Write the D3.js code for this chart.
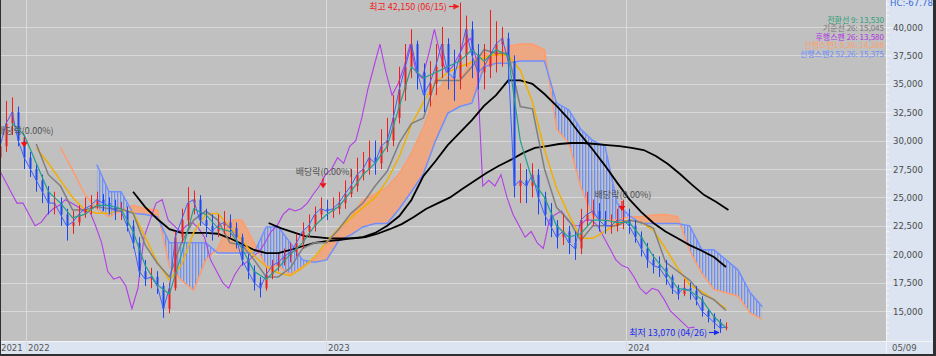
<!DOCTYPE html>
<html><head><meta charset="utf-8">
<script src="https://cdn.jsdelivr.net/npm/d3@7"></script>
<style>html,body{margin:0;padding:0;background:#fff;}svg{display:block;}</style>
</head><body><svg id="c" width="936" height="356"></svg>
<script>
// ===== DATA (trading-day index i; candles every 5 days) =====
const candleStep = 5;
const firstOpen = 28500;
const closes = [29500,31500,32500,30000,28500,27500,26500,25500,24500,24500,
 23500,22500,22800,23500,24000,24300,24800,24500,24200,23800,
 23800,22500,21000,18500,17800,18000,17200,15200,17000,21500,
 23000,24500,24800,23000,22500,22000,22500,22800,22300,21500,
 19500,18500,17500,17000,18200,19000,19300,19800,20200,21000,
 22000,22500,23500,24000,23800,24000,24500,25300,26000,27000,
 27500,28500,28000,29500,30000,32000,34500,36500,38500,36000,
 34000,35000,36500,38500,36000,35500,37500,39800,37500,36000,
 36500,37500,38500,39000,37000,26000,26500,26000,27000,25000,
 23500,22500,21500,22000,21000,20500,23000,23500,23800,23000,
 22500,22500,23000,23000,22500,21500,20500,19500,19000,18800,
 18000,17000,16500,17000,16800,16000,15000,14500,14000,13500,
 13580];
const highs = [31000,33500,33800,33000,30500,29000,28000,27000,26000,25500,
 25000,24000,23800,24300,25000,25200,25500,25300,25000,24800,
 24600,24200,23000,21500,19500,18800,18500,17500,17500,22000,
 24000,25900,25600,25200,24000,23500,23500,23800,23500,22800,
 21800,20000,19000,18000,18800,19500,20000,20500,21000,21800,
 22800,23500,24200,25000,24800,25000,25500,26500,27500,28500,
 29000,30000,30000,31000,32000,34000,36500,38500,39800,38800,
 36800,37000,38500,40000,39000,38000,42150,41000,40500,38500,
 38500,41500,40500,40000,39500,37500,28000,27500,28000,27500,
 25500,24500,23000,23500,22500,22000,24000,25500,24800,24500,
 23800,23500,24000,24800,24000,23000,22000,21000,20000,19800,
 19500,18200,17300,17800,17500,17200,16300,15200,14800,14300,
 14000];
const lows = [28000,29000,30500,29500,27500,26800,25500,24500,23500,23500,
 22500,21200,21800,22500,23200,23500,24000,23800,23500,23000,
 23000,22000,20500,18000,17200,17000,16500,14400,14800,16800,
 21000,22500,23500,22500,21500,21200,21500,21800,21500,20500,
 19000,17800,16800,16200,16800,17800,18500,19000,19300,19800,
 20500,21500,22000,23000,23000,23200,23500,24000,25000,25500,
 26500,27000,27000,27500,29000,29500,31500,33500,35500,34500,
 32500,33000,34000,35500,34500,33500,34500,36500,35500,34500,
 34500,35500,36000,36500,35000,25000,24500,24500,25000,23500,
 22500,21500,20500,20800,20000,19500,20000,22500,22500,22000,
 21800,21800,22000,22200,21800,21000,19800,18800,18300,18000,
 17300,16500,16000,16300,16000,15500,14500,14000,13400,13070,
 13300];
// Ichimoku + moving averages, sampled every 10 trading days from their start index
const tenkanStart = 10;
const tenkan = [31500,30500,28000,25500,24500,23200,23500,24300,24300,24000,
 22000,19000,17300,16500,20000,24000,23500,22300,22000,20500,
 18500,17800,18800,20000,21000,22500,23500,24200,25500,27000,
 28000,29500,33000,36500,35500,36000,36500,37000,38000,37000,
 38000,37500,30000,26500,25000,22500,21500,21800,23000,23000,
 22800,22800,21500,19800,18500,17000,16800,16000,14500,13530];
const kijunStart = 30;
const kijun = [29700,27000,26000,23900,23900,24200,24000,24000,23600,20800,
 19200,18000,21000,23000,23800,23000,21000,20800,19500,18000,
 18000,18800,20500,21000,21000,22200,23600,24500,26000,27300,
 29800,31500,32000,35300,35300,35300,36500,38000,37700,37700,
 33000,32800,27500,24100,23000,21200,22500,22500,22500,23000,
 22800,22300,19300,18500,17700,16500,16000,15045];
const spanAStart = 50;
const spanA = [29400,27400,25300,24000,23300,23800,24300,24000,23900,18900,
 17700,16800,19500,20500,23000,23000,21000,18900,19000,18200,
 18900,19500,20800,21900,23300,24800,25300,25900,27100,28900,
 31200,34200,35600,35300,37100,37700,37500,38300,38500,38500,
 38000,31000,29800,25900,23300,23000,23000,23300,23300,23450,
 23500,23300,20300,18300,16900,16600,16300,14800,14288];
const spanBStart = 80;
const spanB = [27900,25500,25500,23600,23500,23300,21000,21000,21000,21000,
 20100,20100,20100,20100,22400,22400,21000,19500,19300,19500,
 21200,21700,22400,22700,22700,24000,25500,27100,30000,32400,
 33000,33300,36500,36800,36800,37000,37000,37000,33300,32700,
 31000,30000,29500,24500,23400,22700,22700,22700,22700,22500,
 20400,20400,19500,18600,16600,15375];
const maGoldStart = 30;
const maGold = [29350,28000,26500,25000,23900,23600,23600,23900,23700,21500,
 19300,17700,19050,21900,23500,23600,22400,21250,19850,18900,
 18350,18100,18800,19750,21100,22300,23200,24100,25000,26500,
 28600,31400,33400,35100,36000,36500,36900,37300,37600,37500,
 36200,33400,29200,25800,23500,21400,21400,22000,22700,23000,
 22800,22100,20500,18800,17300,16700,16000,15200];
const maBlack1Start = 110;
const maBlack1 = [25500,24150,23100,22200,21870,21870,21870,21800,21400,20900,
 20370,20100,20100,20370,20700,21000,21160,21250,21400,21500,
 21870,22500,23360,24770,26900,28200,29600,30700,31800,33050,
 34000,35300,35300,35000,34100,33050,31900,30500,29200,27800,
 26300,24850,23700,22750,22000,21400,20800,20300,19750,18870];
const maBlack2Start = 222;
const maBlack2 = [22750,22300,21950,21600,21500,21400,21400,21400,21500,21800,
 22200,22650,23270,23980,24500,25000,25740,26440,27150,27760,
 28300,28900,29350,29520,29700,29790,29790,29700,29600,29520,
 29350,29170,28650,27940,27060,26100,25200,24600,23900];
const lagPeriod = 26;
const yTickValues = [15000,17500,20000,22500,25000,27500,30000,32500,35000,37500,40000];
const yearLabels = ["2021","2022","2023","2024"];
const yearIdx = [0,22,270,518];
const lastDateLabel = "05/09";
const highDate = "06/15", lowDate = "04/26";
const divIdx = [20,267,514];
const divLevel = [29500,25900,23900];
const divLabel = "배당락(0.00%)";
const hcLabel = "HC:-67.78";

// ===== LAYOUT =====
const W=936,H=356,plotL=1,plotR=886,plotB=341,axisR=933,axisB=354;
const x = d3.scaleLinear().domain([0,700]).range([0,847]);
const y = d3.scaleLinear().domain([15000,40000]).range([311,27]);
const numFont = "'Liberation Sans Narrow','DejaVu Sans Condensed','Liberation Sans',sans-serif";
const krFont = "'Noto Sans CJK KR','Noto Sans',sans-serif";
const fmt = d3.format(",");

const svg = d3.select('#c');
const defs = svg.append('defs');
defs.append('clipPath').attr('id','plotClip').append('rect')
  .attr('x',plotL).attr('y',0).attr('width',plotR-plotL).attr('height',plotB);
const po = defs.append('pattern').attr('id','ho').attr('width',2).attr('height',10).attr('patternUnits','userSpaceOnUse');
po.append('rect').attr('width',2).attr('height',10).attr('fill','#dcae94');
po.append('rect').attr('width',1).attr('height',10).attr('fill','#ffa070');
const pb = defs.append('pattern').attr('id','hb').attr('width',3).attr('height',10).attr('patternUnits','userSpaceOnUse');
pb.append('rect').attr('width',1.3).attr('height',10).attr('fill','#6f8ff8');
const mk = (id,col)=>defs.append('marker').attr('id',id).attr('viewBox','0 0 10 10').attr('refX',9).attr('refY',5)
  .attr('markerWidth',5).attr('markerHeight',5).attr('orient','auto')
  .append('path').attr('d','M0,0L10,5L0,10z').attr('fill',col);
mk('arR','#f02020'); mk('arB','#1a2cf0');

// backgrounds
svg.append('rect').attr('width',W).attr('height',H).attr('fill','#2f2f2f');
svg.append('rect').attr('x',plotL).attr('y',0).attr('width',plotR-plotL).attr('height',plotB).attr('fill','#c0c0c0');
svg.append('rect').attr('x',plotR).attr('y',0).attr('width',axisR-plotR).attr('height',axisB).attr('fill','#dbe4f0');
svg.append('rect').attr('x',plotL).attr('y',plotB).attr('width',plotR-plotL).attr('height',axisB-plotB).attr('fill','#dbe4f0');
svg.append('line').attr('x1',plotR+0.5).attr('x2',plotR+0.5).attr('y1',0).attr('y2',axisB).attr('stroke','#f4f4f4');
svg.append('line').attr('x1',plotL).attr('x2',axisR).attr('y1',plotB+0.5).attr('y2',plotB+0.5).attr('stroke','#f4f4f4');

// grid
const grid = svg.append('g');
yTickValues.forEach(v=>grid.append('line').attr('x1',plotL).attr('x2',plotR).attr('y1',Math.round(y(v))+0.5).attr('y2',Math.round(y(v))+0.5).attr('stroke','#d8d8d8'));
yearIdx.forEach((d,k)=>{ if(k>0) grid.append('line').attr('x1',Math.round(x(d))-0.5).attr('x2',Math.round(x(d))-0.5).attr('y1',0).attr('y2',axisB).attr('stroke','#dadada'); });

const plot = svg.append('g').attr('clip-path','url(#plotClip)');
const toPts=(arr,start,step)=>arr.map((v,k)=>[start+k*step,v]);
const line = d3.line().x(d=>x(d[0])).y(d=>y(d[1]));

// cloud
const cloud = spanB.map((b,k)=>{const i=spanBStart+k*10; return {i, b, a: spanA[(i-spanAStart)/10]};});
const aboveB = d3.area().x(d=>x(d.i)).y0(0).y1(d=>y(d.b));
const belowB = d3.area().x(d=>x(d.i)).y0(d=>y(d.b)).y1(plotB);
defs.append('clipPath').attr('id','cAbove').append('path').attr('d',aboveB(cloud));
defs.append('clipPath').attr('id','cBelow').append('path').attr('d',belowB(cloud));
const between = d3.area().x(d=>x(d.i)).y0(d=>y(d.a)).y1(d=>y(d.b));
plot.append('g').attr('clip-path','url(#cAbove)').append('path').attr('d',between(cloud)).attr('fill','url(#ho)');
plot.append('g').attr('clip-path','url(#cBelow)').append('path').attr('d',between(cloud)).attr('fill','url(#hb)');
plot.append('path').attr('d',line(toPts(spanA,spanAStart,10))).attr('fill','none').attr('stroke','#ff9c6c').attr('stroke-width',1.5);
plot.append('path').attr('d',line(toPts(spanB,spanBStart,10))).attr('fill','none').attr('stroke','#6f8fff').attr('stroke-width',1.5);

// chikou (lagging span) = closes shifted back
const chikou = closes.map((c,k)=>[k*candleStep-lagPeriod,c]);
plot.append('path').attr('d',line(chikou)).attr('fill','none').attr('stroke','#b23ee6').attr('stroke-width',1.1);

// moving averages
plot.append('path').attr('d',line(toPts(maBlack1,maBlack1Start,10))).attr('fill','none').attr('stroke','#000').attr('stroke-width',1.8);
plot.append('path').attr('d',line(toPts(maBlack2,maBlack2Start,10))).attr('fill','none').attr('stroke','#000').attr('stroke-width',1.8);
plot.append('path').attr('d',line(toPts(maGold,maGoldStart,10))).attr('fill','none').attr('stroke','#f0b000').attr('stroke-width',1.5);
plot.append('path').attr('d',line(toPts(kijun,kijunStart,10))).attr('fill','none').attr('stroke','#7f7f7f').attr('stroke-width',1.5);

// candles
const cg = plot.append('g');
closes.forEach((c,k)=>{
  const i=k*candleStep, o = k? closes[k-1] : firstOpen;
  const col = c>=o ? '#f21c1c' : '#1c46f0';
  const xc = Math.round(x(i))+0.5;
  cg.append('line').attr('x1',xc).attr('x2',xc).attr('y1',y(highs[k])).attr('y2',y(lows[k])).attr('stroke',col).attr('stroke-width',1);
  const top=y(Math.max(o,c)), bot=y(Math.min(o,c));
  cg.append('rect').attr('x',xc-1).attr('y',top).attr('width',2).attr('height',Math.max(1,bot-top)).attr('fill',col);
});
plot.append('path').attr('d',line(closes.map((c,k)=>[k*candleStep,c]))).attr('fill','none').attr('stroke','#3a62ff').attr('stroke-width',1);
plot.append('path').attr('d',line(toPts(tenkan,tenkanStart,10))).attr('fill','none').attr('stroke','#22a08a').attr('stroke-width',1.2);

// dividend markers
divIdx.forEach((d,k)=>{
  const xm=x(d), ym=y(divLevel[k]);
  plot.append('line').attr('x1',xm).attr('x2',xm).attr('y1',ym-9).attr('y2',ym-3).attr('stroke','#f01010').attr('stroke-width',1.2);
  plot.append('path').attr('d',`M${xm-3.5},${ym-4}L${xm+3.5},${ym-4}L${xm},${ym+1}Z`).attr('fill','#f01010');
  plot.append('text').attr('x',xm+1).attr('y',ym-12).attr('text-anchor','middle').attr('font-family',krFont).attr('font-size',9).attr('fill','#505050').text(divLabel);
});

// high / low annotations
const hiK = d3.maxIndex(highs), loK = d3.minIndex(lows);
const hx = x(hiK*candleStep), lx = x(loK*candleStep);
svg.append('text').attr('x',hx-13).attr('y',10).attr('text-anchor','end').attr('font-family',krFont).attr('font-size',9).attr('fill','#f02020')
  .text(`최고 ${fmt(highs[hiK])} (${highDate})`);
svg.append('line').attr('x1',hx-11).attr('x2',hx-1).attr('y1',6.5).attr('y2',6.5).attr('stroke','#f02020').attr('stroke-width',1.2).attr('marker-end','url(#arR)');
svg.append('text').attr('x',lx-13).attr('y',336).attr('text-anchor','end').attr('font-family',krFont).attr('font-size',9).attr('fill','#1a2cf0')
  .text(`최저 ${fmt(lows[loK])} (${lowDate})`);
svg.append('line').attr('x1',lx-11).attr('x2',lx-1).attr('y1',332.5).attr('y2',332.5).attr('stroke','#1a2cf0').attr('stroke-width',1.2).attr('marker-end','url(#arB)');

// legend
const legend = [
  [`전환선 9: ${fmt(tenkan[tenkan.length-1])}`,'#2a9d78'],
  [`기준선 26: ${fmt(kijun[kijun.length-1])}`,'#787878'],
  [`후행스팬 26: ${fmt(closes[closes.length-1])}`,'#b030e0'],
  [`선행스팬1 9,26: ${fmt(spanA[spanA.length-1])}`,'#ff9f68'],
  [`선행스팬2 52,26: ${fmt(spanB[spanB.length-1])}`,'#6b8cff']];
legend.forEach((d,k)=>svg.append('text').attr('x',884).attr('y',22.5+k*8.6).attr('text-anchor','end')
  .attr('font-family',krFont).attr('font-size',8).attr('fill',d[1]).text(d[0]));

// right axis
const ax = svg.append('g').attr('transform',`translate(${plotR+1},0)`)
  .call(d3.axisRight(y).tickValues(yTickValues).tickSize(5).tickPadding(1).tickFormat(fmt));
ax.select('.domain').remove();
ax.selectAll('line').attr('stroke','#f4f4f4');
ax.selectAll('text').attr('font-family',numFont).attr('font-size',9.5).attr('fill','#4a4a4a');
d3.range(12500,43000,500).filter(v=>v%2500!==0).forEach(v=>{const yy=y(v); if(yy>0&&yy<plotB) svg.append('line').attr('x1',plotR+1).attr('x2',plotR+3).attr('y1',yy).attr('y2',yy).attr('stroke','#f8f8f8');});
svg.append('text').attr('x',plotR+4).attr('y',6).attr('font-family',numFont).attr('font-size',9.5).attr('fill','#3a6cd8').text(hcLabel);

// bottom axis labels
yearLabels.forEach((t,k)=>svg.append('text').attr('x',Math.round(x(yearIdx[k]))+1).attr('y',351).attr('font-family',numFont).attr('font-size',9.5).attr('fill','#555').text(t));
svg.append('text').attr('x',plotR+6).attr('y',351).attr('font-family',numFont).attr('font-size',9.5).attr('fill','#555').text(lastDateLabel);
</script></body></html>
